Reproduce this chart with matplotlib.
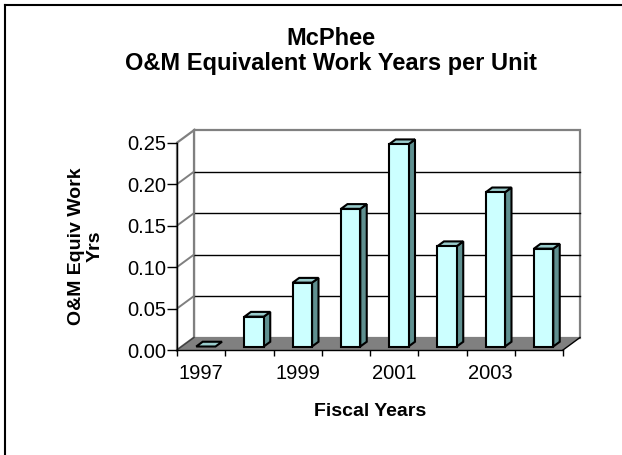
import matplotlib
matplotlib.use("Agg")
import matplotlib.pyplot as plt
import numpy as np
from matplotlib.patches import Polygon
from matplotlib.lines import Line2D
from matplotlib.transforms import IdentityTransform

plt.rcParams['font.family'] = ['Liberation Sans', 'DejaVu Sans']

years = [1997, 1998, 1999, 2000, 2001, 2002, 2003, 2004]
values = [0.0, 0.036, 0.077, 0.166, 0.244, 0.121, 0.186, 0.118]
label_years = ["1997", "1999", "2001", "2003"]
yticks = [0.00, 0.05, 0.10, 0.15, 0.20, 0.25]

title = "McPhee\nO&M Equivalent Work Years per Unit"
ylabel = "O&M Equiv Work\nYrs"
xlabel = "Fiscal Years"

W, H = 622, 455
fig = plt.figure(figsize=(W / 100, H / 100), dpi=100)
ax = fig.add_axes([177 / W, 105 / H, 386 / W, 207.3 / H])
n = len(years)
ax.set_xlim(-0.5, n - 0.5)
ax.set_ylim(0, 0.25)
ax.patch.set_visible(False)

DX, DY = 17.0, 12.5
ident = IdentityTransform()


def P(x, y, d):
    px = ax.transData.transform((x, y))
    return (px[0] + d * DX, px[1] + d * DY)


def poly(pts, fc, ec='none', lw=0, z=1):
    p = Polygon(pts, closed=True, facecolor=fc, edgecolor=ec, linewidth=lw,
                transform=ident, zorder=z, clip_on=False, joinstyle='miter')
    ax.add_artist(p)


def line(p0, p1, color, lw, z=1):
    l = Line2D([p0[0], p1[0]], [p0[1], p1[1]], color=color, linewidth=lw,
               transform=ident, zorder=z, clip_on=False)
    ax.add_artist(l)


x0, x1 = -0.5, n - 0.5
ymax = 0.25
gray = '#808080'

# walls
poly([P(x0, 0, 1), P(x1, 0, 1), P(x1, ymax, 1), P(x0, ymax, 1)], 'white', gray, 1.6, 0.5)
poly([P(x0, 0, 0), P(x0, 0, 1), P(x0, ymax, 1), P(x0, ymax, 0)], 'white', gray, 1.6, 0.5)
# gridlines
for lv in yticks[1:-1]:
    line(P(x0, lv, 1), P(x1, lv, 1), 'black', 1.0, 0.6)
    line(P(x0, lv, 0), P(x0, lv, 1), gray, 1.4, 0.6)
# floor
poly([P(x0, 0, 0), P(x1, 0, 0), P(x1, 0, 1), P(x0, 0, 1)], gray, 'none', 0, 0.7)
line(P(x1, 0, 0), P(x1, 0, 1), 'black', 1.0, 0.8)
line(P(x0, 0, 0), P(x0, 0, 1), '#404040', 1.0, 0.8)

# bars
front_c, side_c, top_c = '#CCFFFF', '#5F9090', '#99CCCC'
d0, d1 = 0.28, 0.66
hw = 0.2
for i, v in enumerate(values):
    a, b = i - hw, i + hw
    if v > 0:
        poly([P(b, 0, d0), P(b, 0, d1), P(b, v, d1), P(b, v, d0)], side_c, 'black', 1.5, 2)
        poly([P(a, 0, d0), P(b, 0, d0), P(b, v, d0), P(a, v, d0)], front_c, 'black', 1.5, 2.1)
    poly([P(a, v, d0), P(b, v, d0), P(b, v, d1), P(a, v, d1)], top_c, 'black', 1.5, 2.05)

# axes styling
for s in ['top', 'right']:
    ax.spines[s].set_visible(False)
for s in ['left', 'bottom']:
    ax.spines[s].set_color('black')
    ax.spines[s].set_linewidth(1.0)
    ax.spines[s].set_zorder(3)
ax.set_yticks(yticks)
ax.set_yticklabels([f"{t:.2f}" for t in yticks], fontsize=14.5)
ax.tick_params(axis='y', length=7, width=1, pad=1)
ax.set_xticks(np.arange(-0.5, n, 1.0))
ax.set_xticklabels([])
ax.tick_params(axis='x', which='major', length=4, width=1)
ax.set_xticks([years.index(int(y)) for y in label_years], label_years, minor=True)
ax.tick_params(axis='x', which='minor', length=0, pad=10, labelsize=14.5)

fig.text(331 / W, 1 - 51 / H, title, ha='center', va='center', fontsize=17,
         fontweight='bold', linespacing=1.12)
fig.text(86 / W, 1 - 246 / H, ylabel, ha='center', va='center', rotation=90,
         fontsize=14, fontweight='bold', multialignment='center', linespacing=1.1)
fig.text(370 / W, 1 - 411 / H, xlabel, ha='center', va='center', fontsize=14,
         fontweight='bold')

# outer border (left & top)
fig.add_artist(Line2D([4.5 / W, 4.5 / W], [0, 1 - 4.5 / H], color='black', lw=1.5,
                      transform=fig.transFigure))
fig.add_artist(Line2D([4.5 / W, 1], [1 - 4.5 / H, 1 - 4.5 / H], color='black', lw=1.5,
                      transform=fig.transFigure))

fig.savefig('out.png', dpi=100)
